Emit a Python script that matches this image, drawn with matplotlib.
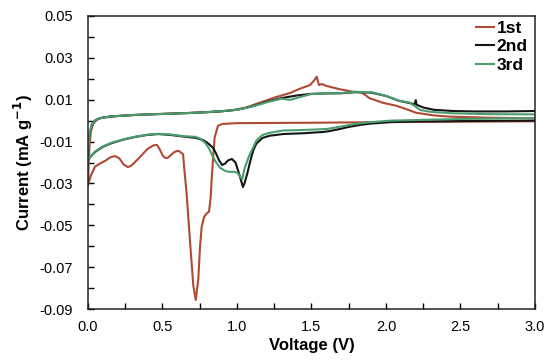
import matplotlib.pyplot as plt
import numpy as np

plt.rcParams['font.family'] = ['Liberation Sans', 'DejaVu Sans']

# ---- cycle 1 (cathodic 3 V -> 0 V, then anodic 0 V -> 3 V)
v1_cat = [3.0, 2.5, 2.0, 1.5, 1.0, 0.95, 0.90, 0.872, 0.85, 0.84, 0.83, 0.823, 0.812,
          0.797, 0.779, 0.763, 0.752, 0.74, 0.723, 0.707, 0.685, 0.662, 0.645, 0.638,
          0.61, 0.597, 0.58, 0.555, 0.535, 0.517, 0.50, 0.48, 0.463, 0.44, 0.40, 0.36,
          0.32, 0.29, 0.268, 0.24, 0.21, 0.181, 0.15, 0.12, 0.08, 0.047, 0.02, 0.0]
i1_cat = [-0.0003, -0.0005, -0.0007, -0.001, -0.0012, -0.0014, -0.0016, -0.0025, -0.008,
          -0.0174, -0.028, -0.037, -0.0435, -0.0443, -0.046, -0.0507, -0.060, -0.076,
          -0.0857, -0.079, -0.058, -0.035, -0.022, -0.016, -0.0145, -0.0145, -0.015,
          -0.0165, -0.0178, -0.0178, -0.0165, -0.0135, -0.0116, -0.0118, -0.0135,
          -0.0165, -0.0195, -0.0215, -0.0222, -0.021, -0.018, -0.0169, -0.0175, -0.019,
          -0.0205, -0.022, -0.026, -0.031]
v1_an = [0.0, 0.005, 0.01, 0.02, 0.035, 0.06, 0.1, 0.2, 0.4, 0.6, 0.8, 0.95, 1.05, 1.15,
         1.25, 1.356, 1.42, 1.49, 1.52, 1.535, 1.55, 1.57, 1.60, 1.69, 1.78, 1.837, 1.89,
         1.98, 2.07, 2.14, 2.2, 2.32, 2.43, 2.7, 3.0]
i1_an = [-0.031, -0.02, -0.012, -0.005, -0.0015, 0.0005, 0.0015, 0.0022, 0.003, 0.0035,
         0.004, 0.0048, 0.006, 0.0085, 0.011, 0.0132, 0.0152, 0.017, 0.0194, 0.021, 0.017,
         0.0175, 0.0166, 0.015, 0.0138, 0.0135, 0.0107, 0.0085, 0.0071, 0.0054, 0.0038,
         0.0025, 0.0019, 0.0014, 0.0011]

# ---- cycle 2
v2_cat = [3.0, 2.5, 2.2, 2.03, 1.9, 1.83, 1.75, 1.69, 1.62, 1.58, 1.45, 1.31, 1.22, 1.17,
          1.13, 1.11, 1.09, 1.07, 1.05, 1.04, 1.025, 1.01, 0.99, 0.966, 0.94, 0.92, 0.90,
          0.88, 0.86, 0.84, 0.80, 0.77, 0.72, 0.65, 0.55, 0.47, 0.40, 0.315, 0.24, 0.16,
          0.10, 0.047, 0.02, 0.0]
i2_cat = [0.0, -0.0002, -0.0004, -0.0007, -0.0014, -0.002, -0.003, -0.004, -0.005,
          -0.0054, -0.006, -0.0064, -0.0072, -0.0083, -0.011, -0.014, -0.019, -0.025,
          -0.030, -0.0317, -0.028, -0.0245, -0.020, -0.0183, -0.019, -0.0205, -0.0212,
          -0.019, -0.0158, -0.013, -0.0105, -0.0092, -0.0082, -0.0077, -0.0068, -0.0064,
          -0.0068, -0.0078, -0.009, -0.0107, -0.0125, -0.015, -0.017, -0.0188]
v2_an = [0.0, 0.005, 0.012, 0.025, 0.045, 0.08, 0.15, 0.3, 0.5, 0.7, 0.9, 1.0, 1.1, 1.2,
         1.3, 1.4, 1.5, 1.6, 1.7, 1.8, 1.9, 2.0, 2.09, 2.16, 2.19, 2.2, 2.205, 2.25, 2.32,
         2.45, 2.6, 2.8, 3.0]
i2_an = [-0.0188, -0.012, -0.006, -0.002, 0.0, 0.0012, 0.002, 0.0027, 0.0032, 0.0037,
         0.0045, 0.0052, 0.0068, 0.009, 0.0108, 0.012, 0.0128, 0.013, 0.0131, 0.0136,
         0.0134, 0.0118, 0.0094, 0.0084, 0.0078, 0.0098, 0.0076, 0.0063, 0.0052, 0.0046,
         0.0044, 0.0044, 0.0046]

# ---- cycle 3
v3_cat = [3.0, 2.5, 2.2, 2.03, 1.9, 1.8, 1.7, 1.6, 1.5, 1.42, 1.31, 1.22, 1.17, 1.13,
          1.11, 1.08, 1.05, 1.035, 1.02, 1.0, 0.975, 0.95, 0.92, 0.886, 0.86, 0.84, 0.81,
          0.785, 0.75, 0.72, 0.65, 0.55, 0.47, 0.40, 0.315, 0.24, 0.16, 0.10, 0.047, 0.02,
          0.0]
i3_cat = [0.0012, 0.0008, 0.0003, 0.0, -0.0007, -0.0015, -0.0028, -0.004, -0.0043,
          -0.0045, -0.0047, -0.0058, -0.0069, -0.0095, -0.0126, -0.017, -0.023, -0.028,
          -0.0265, -0.0248, -0.0244, -0.0245, -0.024, -0.0225, -0.02, -0.0175, -0.013,
          -0.0105, -0.0085, -0.0077, -0.0075, -0.0066, -0.0063, -0.0067, -0.0077,
          -0.0089, -0.0105, -0.0123, -0.0148, -0.0168, -0.0186]
v3_an = [0.0, 0.005, 0.012, 0.025, 0.045, 0.08, 0.15, 0.3, 0.5, 0.7, 0.9, 1.0, 1.1, 1.2,
         1.3, 1.356, 1.49, 1.58, 1.69, 1.80, 1.91, 2.0, 2.09, 2.16, 2.23, 2.3, 2.45, 2.7,
         3.0]
i3_an = [-0.0186, -0.012, -0.006, -0.002, 0.0, 0.0012, 0.002, 0.0027, 0.0032, 0.0037,
         0.0045, 0.0052, 0.0067, 0.0088, 0.0105, 0.0099, 0.0126, 0.0131, 0.0131, 0.0138,
         0.0135, 0.0118, 0.0095, 0.0086, 0.0051, 0.0042, 0.0035, 0.0031, 0.003]

c1, c2, c3 = '#b04a32', '#151515', '#4a9e6e'

fig = plt.figure(figsize=(5.5, 3.61), dpi=100)
ax = fig.add_axes([0.16, 0.144, 0.8127, 0.8117])

ax.plot(v1_cat + v1_an, i1_cat + i1_an, color=c1, lw=1.5, label='1st')
ax.plot(v2_cat + v2_an, i2_cat + i2_an, color=c2, lw=1.5, label='2nd')
ax.plot(v3_cat + v3_an, i3_cat + i3_an, color=c3, lw=1.5, label='3rd')

ax.set_xlim(0, 3.0)
ax.set_ylim(-0.09, 0.05)
ax.set_xticks(np.arange(0, 3.01, 0.5))
ax.set_xticks(np.arange(0, 3.01, 0.25), minor=True)
ax.set_yticks(np.arange(-0.09, 0.051, 0.02))
ax.set_yticks(np.arange(-0.09, 0.051, 0.01), minor=True)
ax.set_xticklabels(['%.1f' % t for t in np.arange(0, 3.01, 0.5)])
ax.set_yticklabels(['%.2f' % t for t in np.arange(-0.09, 0.051, 0.02)])
ax.tick_params(which='both', direction='in', length=4, width=1, labelsize=10.5,
               top=False, right=False)
ax.tick_params(axis='x', which='both', pad=8)
ax.tick_params(axis='y', which='both', pad=11)
for s in ax.spines.values():
    s.set_linewidth(1.1)
    s.set_color('#222222')

ax.set_xlabel('Voltage (V)', fontsize=12, fontweight='bold', labelpad=3)
ax.set_ylabel('Current (mA g$^{\\mathbf{-1}}$)', fontsize=12, fontweight='bold', labelpad=3)

leg = ax.legend(loc='upper right', bbox_to_anchor=(1.018, 1.038), frameon=False,
                handlelength=1.0, handletextpad=0.15, labelspacing=0.2,
                prop={'weight': 'bold', 'size': 12.5})

fig.savefig('out.png', dpi=100)
